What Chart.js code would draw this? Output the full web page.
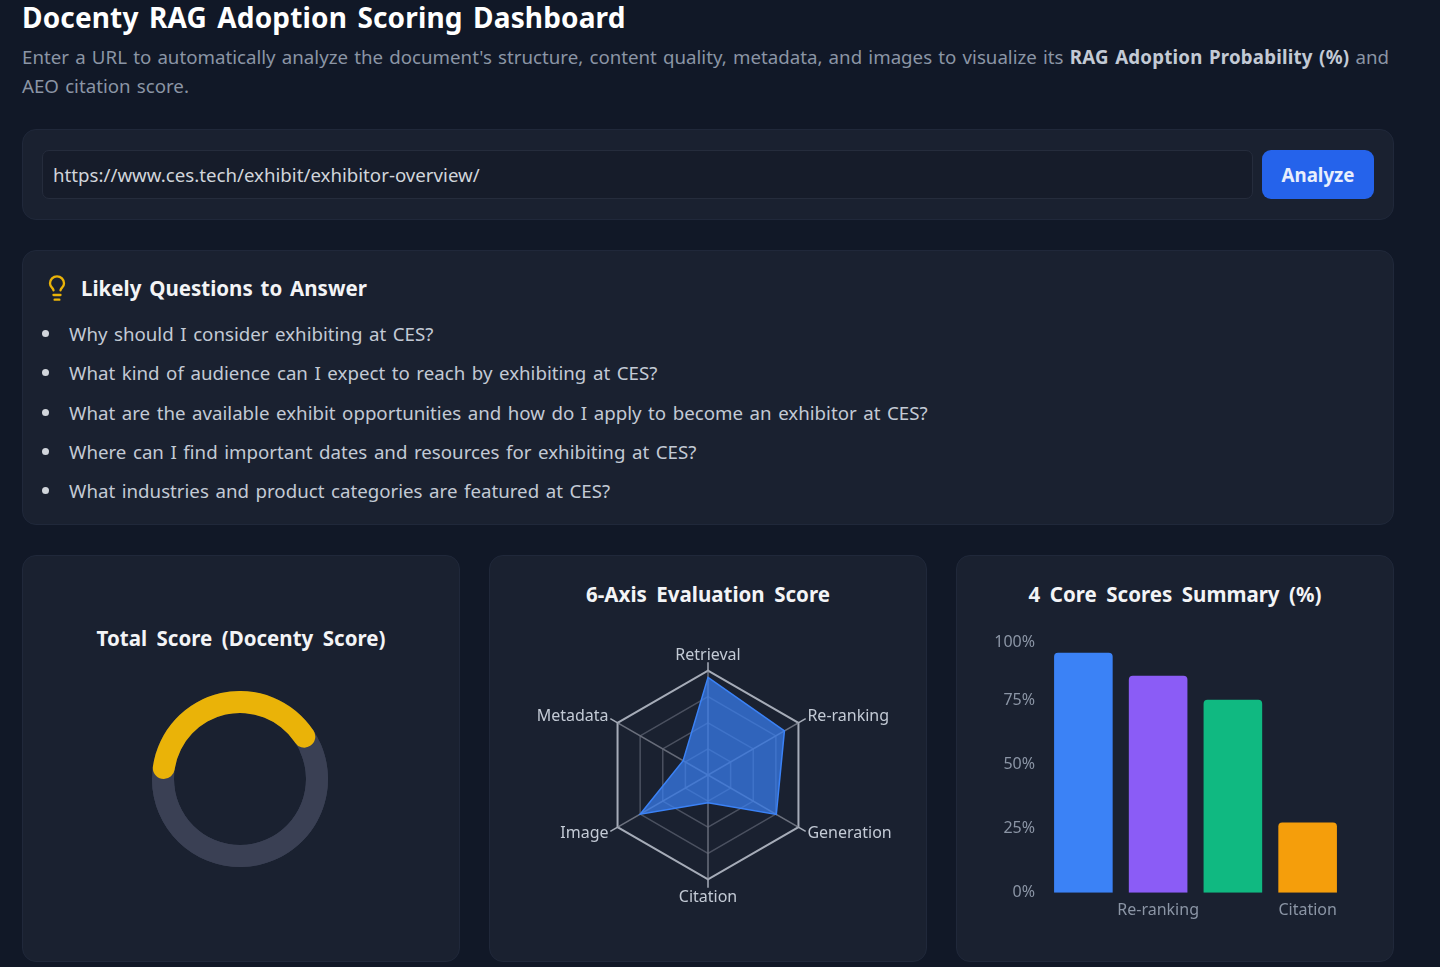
<!DOCTYPE html>
<html>
<head>
<meta charset="utf-8">
<title>Docenty RAG Adoption Scoring Dashboard</title>
<script src="https://cdn.jsdelivr.net/npm/chart.js@4"></script>
<style>
  * { box-sizing: border-box; }
  html, body { margin: 0; padding: 0; }
  body { width: 1440px; height: 967px; overflow: hidden; position: relative; background: #111827; font-family: "Noto Sans", sans-serif; color: #fff; }
  h1 { position: absolute; left: 22px; top: -1px; margin: 0; font-size: 28px; line-height: 36px; font-weight: 700; letter-spacing: 0.15px; word-spacing: 3px; color: #fff; white-space: nowrap; }
  .sub { position: absolute; left: 22px; top: 42px; margin: 0; font-size: 18.7px; line-height: 29px; word-spacing: 1.35px; color: #8b95a5; white-space: nowrap; }
  .sub b { color: #c3cad5; font-weight: 700; letter-spacing: 0.2px; }
  .card { position: absolute; background: #1a2130; border: 1px solid #20283a; border-radius: 14px; }
  .url { position: absolute; left: 19px; top: 20px; width: 1211px; height: 49px; background: #161c2a; border: 1px solid #252c3c; border-radius: 7px; font-size: 18.7px; line-height: 47px; padding-left: 10px; color: #d1d5db; }
  .btn { position: absolute; left: 1239px; top: 20px; width: 112px; height: 49px; background: #2563eb; border-radius: 9px; font-size: 18.7px; line-height: 49px; font-weight: 700; text-align: center; color: #e8eefc; }
  .q-title { position: absolute; left: 58px; top: 21px; font-size: 20.5px; line-height: 32px; font-weight: 700; word-spacing: 2.5px; color: #f3f4f6; white-space: nowrap; }
  .bulb { position: absolute; left: 20px; top: 22px; }
  ul { position: absolute; left: 0; top: 63px; margin: 0; padding: 0; list-style: none; }
  li { position: relative; padding-left: 46px; height: 39.3px; line-height: 39.3px; font-size: 18.7px; word-spacing: 1.7px; color: #c3cad5; white-space: nowrap; }
  li::before { content: ""; position: absolute; left: 19px; top: 16px; width: 7px; height: 7px; border-radius: 50%; background: #d1d5db; }
  .panel-title { position: absolute; left: 0; width: 100%; text-align: center; font-size: 20.5px; line-height: 30px; font-weight: 700; word-spacing: 4.2px; color: #f3f4f6; white-space: nowrap; }
  .chart-box { position: absolute; }
</style>
</head>
<body>
  <h1>Docenty RAG Adoption Scoring Dashboard</h1>
  <p class="sub">Enter a URL to automatically analyze the document's structure, content quality, metadata, and images to visualize its <b>RAG Adoption Probability (%)</b> and<br>AEO citation score.</p>

  <div class="card" style="left:22px;top:129px;width:1372px;height:91px">
    <div class="url">https://www.ces.tech/exhibit/exhibitor-overview/</div>
    <div class="btn">Analyze</div>
  </div>

  <div class="card" style="left:22px;top:250px;width:1372px;height:275px">
    <svg class="bulb" width="28" height="30" viewBox="0 0 24 24" fill="none" stroke="#eab308" stroke-width="2" stroke-linecap="round" stroke-linejoin="round">
      <path d="M15 14c.2-1 .7-1.7 1.5-2.5 1-.9 1.5-2.2 1.5-3.5A6 6 0 0 0 6 8c0 1 .2 2.2 1.5 3.5.7.7 1.3 1.5 1.5 2.5"/>
      <path d="M9 18h6"/><path d="M10 22h4"/>
    </svg>
    <div class="q-title">Likely Questions to Answer</div>
    <ul id="questions"></ul>
  </div>

  <div class="card" style="left:22px;top:555px;width:438px;height:407px">
    <div class="panel-title" style="top:67px">Total Score (Docenty Score)</div>
    <div class="chart-box" style="left:129px;top:135px;width:176px;height:176px"><canvas id="scoreChart"></canvas></div>
  </div>
  <div class="card" style="left:489px;top:555px;width:438px;height:407px">
    <div class="panel-title" style="top:23px">6-Axis Evaluation Score</div>
    <div class="chart-box" style="left:9px;top:88.5px;width:418px;height:264px"><canvas id="radarChart"></canvas></div>
  </div>
  <div class="card" style="left:956px;top:555px;width:438px;height:407px">
    <div class="panel-title" style="top:23px">4 Core Scores Summary (%)</div>
    <div class="chart-box" style="left:27px;top:65px;width:361px;height:299px"><canvas id="barChart"></canvas></div>
  </div>

<script>
const questions = [
  'Why should I consider exhibiting at CES?',
  'What kind of audience can I expect to reach by exhibiting at CES?',
  'What are the available exhibit opportunities and how do I apply to become an exhibitor at CES?',
  'Where can I find important dates and resources for exhibiting at CES?',
  'What industries and product categories are featured at CES?'
];

const totalScore = [43, 57];

const radarLabels = ['Retrieval', 'Re-ranking', 'Generation', 'Citation', 'Image', 'Metadata'];
const radarValues = [93.5, 84.5, 75.5, 26.5, 75, 27.5];
const radarTicks = [0, 25, 50, 75, 100];

const barLabels = ['Retrieval', 'Re-ranking', 'Generation', 'Citation'];
const barValues = [93.5, 84.5, 75.2, 27.4];
const barColors = ['#3b82f6', '#8b5cf6', '#10b981', '#f59e0b'];

document.getElementById('questions').innerHTML = questions.map(q => `<li>${q}</li>`).join('');

// full grey ring under the doughnut so the rounded yellow ends sit on top of it
const trackPlugin = {
  id: 'track',
  beforeDatasetsDraw(chart) {
    const arc = chart.getDatasetMeta(0).data[0];
    const ctx = chart.ctx;
    ctx.save();
    ctx.fillStyle = '#3a4054';
    ctx.beginPath();
    ctx.arc(arc.x, arc.y, arc.outerRadius, 0, Math.PI * 2);
    ctx.arc(arc.x, arc.y, arc.innerRadius, 0, Math.PI * 2, true);
    ctx.fill();
    ctx.restore();
  }
};

new Chart(document.getElementById('scoreChart'), {
  type: 'doughnut',
  data: {
    labels: ['Score', 'Rest'],
    datasets: [{
      data: totalScore,
      backgroundColor: ['#eab308', '#3a4054'],
      borderWidth: 0,
      borderRadius: [11, 0]
    }]
  },
  options: {
    responsive: true,
    maintainAspectRatio: false,
    animation: false,
    rotation: -90,
    cutout: '75%',
    plugins: { legend: { display: false }, tooltip: { enabled: false } }
  },
  plugins: [trackPlugin]
});

// spokes are dim inside the outer ring and bright on the stub past it
function spokeColor(ctx) {
  const r = ctx.chart.scales.r;
  const gradient = ctx.chart.ctx.createRadialGradient(r.xCenter, r.yCenter, 0, r.xCenter, r.yCenter, r.drawingArea);
  gradient.addColorStop(0, '#5f6472');
  gradient.addColorStop(0.9, '#6c717e');
  gradient.addColorStop(0.93, '#a6acb8');
  gradient.addColorStop(1, '#a6acb8');
  return gradient;
}

new Chart(document.getElementById('radarChart'), {
  type: 'radar',
  data: {
    labels: radarLabels,
    datasets: [{
      data: radarValues,
      backgroundColor: 'rgba(59, 130, 246, 0.7)',
      borderColor: '#3b82f6',
      borderWidth: 1.5,
      pointRadius: 0
    }]
  },
  options: {
    responsive: true,
    maintainAspectRatio: false,
    animation: false,
    plugins: { legend: { display: false }, tooltip: { enabled: false } },
    scales: {
      r: {
        min: 0,
        max: 108, // spokes run a little past the outer ring
        afterBuildTicks(scale) { scale.ticks = radarTicks.map(value => ({ value })); },
        ticks: { display: false },
        grid: {
          lineWidth: ctx => ctx.tick.value === 100 ? 2 : 1.5,
          color: ctx => ctx.tick.value === 100 ? '#a6acb8' : '#4b5160'
        },
        angleLines: { color: spokeColor, lineWidth: 1.5 },
        pointLabels: {
          color: '#c3cad5',
          // side labels sit centred on the spoke end, so they get almost no line height
          font: ctx => ({ family: 'Noto Sans', size: 16, lineHeight: ctx.index % 3 ? 0.1 : 1.2 }),
          padding: ctx => ctx.index % 3 ? 2 : (ctx.index === 0 ? -3 : 0)
        }
      }
    }
  }
});

new Chart(document.getElementById('barChart'), {
  type: 'bar',
  data: {
    labels: barLabels,
    datasets: [{
      data: barValues,
      backgroundColor: barColors,
      borderRadius: 4,
      barPercentage: 0.98,
      categoryPercentage: 0.8
    }]
  },
  options: {
    responsive: true,
    maintainAspectRatio: false,
    animation: false,
    plugins: { legend: { display: false }, tooltip: { enabled: false } },
    scales: {
      x: {
        grid: { display: false },
        border: { display: false },
        ticks: {
          color: '#8b95a5',
          font: { family: 'Noto Sans', size: 16 },
          padding: 0,
          autoSkip: false,
          maxRotation: 0,
          callback(value, index) { return index % 2 ? barLabels[index] : ''; }
        }
      },
      y: {
        min: 0,
        max: 100,
        grid: { display: false },
        border: { display: false },
        afterFit(scale) { scale.width = 62; },
        ticks: {
          stepSize: 25,
          color: '#8b95a5',
          // the 100% label sits a few px under its tick: blank first line pushes it down
          font: ctx => ({ family: 'Noto Sans', size: 16, lineHeight: ctx.tick && ctx.tick.value === 100 ? 0.75 : 1.2 }),
          callback: value => value === 100 ? ['', value + '%'] : value + '%'
        }
      }
    }
  }
});
</script>
</body>
</html>
